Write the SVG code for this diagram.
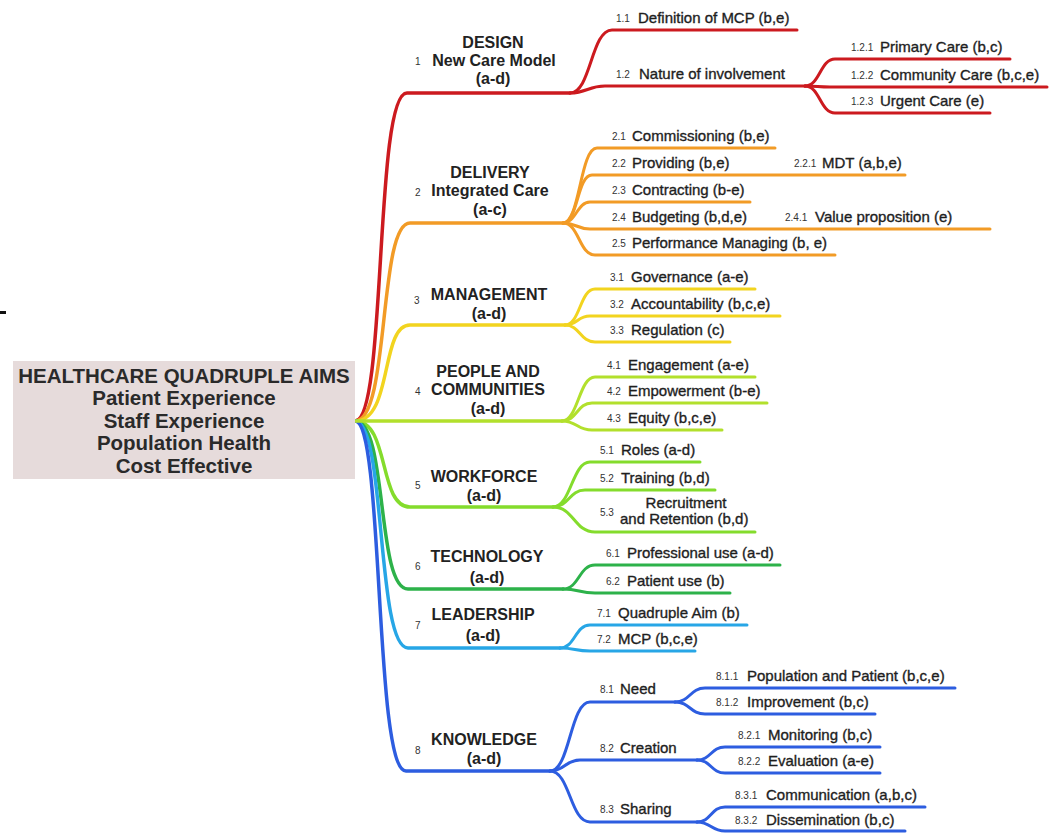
<svg xmlns="http://www.w3.org/2000/svg" width="1059" height="833" viewBox="0 0 1059 833">
<style>
text{font-family:"Liberation Sans",Arial,sans-serif;fill:#1e1e1e}
.root{font-size:20.5px;font-weight:bold;text-anchor:middle;fill:#2a2a2a}
.l1{font-size:16px;font-weight:bold;text-anchor:middle;fill:#222}
.n1{font-size:10px;fill:#333}
.s{font-size:15px;stroke:#1e1e1e;stroke-width:0.35}
.n{font-size:10px;fill:#333}
path{fill:none;stroke-width:3;stroke-linecap:round;stroke-linejoin:round}
.m{stroke-width:3.5}
.c1{stroke:#cc1a1f}.c2{stroke:#f29b26}.c3{stroke:#f2d41f}.c4{stroke:#b2e02c}
.c5{stroke:#84dc2c}.c6{stroke:#2db24a}.c7{stroke:#27a6e6}.c8{stroke:#2d5de0}
</style>
<rect x="0" y="311" width="6" height="3" fill="#111"/>
<g id="connectors">
<path class="c1 m" d="M355,421 C387,421 374,93 407,93 H570"/>
<path class="c2 m" d="M355,421 C390,421 378,223 410,223 H563"/>
<path class="c3 m" d="M355,421 C393,421 380,325 410,325 H565"/>
<path class="c5 m" d="M355,421 C390,421 378,507 410,507 H553"/>
<path class="c6 m" d="M355,421 C388,421 376,589 408,589 H563"/>
<path class="c7 m" d="M355,421 C386,421 376,648 408,648 H560"/>
<path class="c8 m" d="M355,421 C384,421 374,771 406,771 H550"/>
<path class="c4 m" d="M355,421 H562"/>
<path class="c1" d="M570,93 C591,93 591,30 612,30 H797"/>
<path class="c1" d="M570,93 C587,93 588,86 605,86 H805"/>
<path class="c1" d="M805,86 C820,86 820,59 835,59 H1010"/>
<path class="c1" d="M805,86 C817,86 818,87 830,87 H1047"/>
<path class="c1" d="M805,86 C820,86 820,113 835,113 H990"/>
<path class="c2" d="M563,223 C580,223 580,148 597,148 H775"/>
<path class="c2" d="M563,223 C578,223 577,175 592,175 H905"/>
<path class="c2" d="M563,223 C576,223 577,202 590,202 H750"/>
<path class="c2" d="M563,223 C576,223 577,229 590,229 H990"/>
<path class="c2" d="M563,223 C579,223 579,255 595,255 H835"/>
<path class="c3" d="M565,325 C580,325 580,289 595,289 H755"/>
<path class="c3" d="M565,325 C578,325 577,316 590,316 H780"/>
<path class="c3" d="M565,325 C580,325 580,342 595,342 H730"/>
<path class="c4" d="M562,421 C578,421 579,377 595,377 H755"/>
<path class="c4" d="M562,421 C577,421 577,403 592,403 H767"/>
<path class="c4" d="M562,421 C577,421 577,430 592,430 H722"/>
<path class="c5" d="M553,507 C571,507 572,462 590,462 H700"/>
<path class="c5" d="M553,507 C569,507 569,490 585,490 H715"/>
<path class="c5" d="M553,507 C574,507 574,532 595,532 H755"/>
<path class="c6" d="M563,589 C579,589 579,565 595,565 H780"/>
<path class="c6" d="M563,589 C579,589 579,593 595,593 H730"/>
<path class="c7" d="M560,648 C575,648 575,625 590,625 H747"/>
<path class="c7" d="M560,648 C575,648 575,651 590,651 H695"/>
<path class="c8" d="M550,771 C570,771 570,702 590,702 H675"/>
<path class="c8" d="M550,771 C565,771 565,760 580,760 H697"/>
<path class="c8" d="M550,771 C570,771 570,822 590,822 H697"/>
<path class="c8" d="M675,702 C690,702 690,688 705,688 H955"/>
<path class="c8" d="M675,702 C690,702 690,714 705,714 H875"/>
<path class="c8" d="M697,760 C711,760 711,747 725,747 H880"/>
<path class="c8" d="M697,760 C711,760 711,773 725,773 H880"/>
<path class="c8" d="M697,822 C711,822 711,807 725,807 H925"/>
<path class="c8" d="M697,822 C711,822 711,831 725,831 H905"/>
</g>
<g id="root">
<rect x="13" y="361" width="342" height="118" fill="#e6dbdb"/>
<text class="root" x="184" y="383">HEALTHCARE QUADRUPLE AIMS</text>
<text class="root" x="184" y="405">Patient Experience</text>
<text class="root" x="184" y="428">Staff Experience</text>
<text class="root" x="184" y="450">Population Health</text>
<text class="root" x="184" y="473">Cost Effective</text>
</g>
<g id="n1">
<text class="l1" x="493" y="48">DESIGN</text>
<text class="n1" x="415" y="65">1</text>
<text class="l1" x="494" y="66">New Care Model</text>
<text class="l1" x="493" y="84">(a-d)</text>
</g>
<g id="n1-1"><text class="n" x="616" y="22">1.1</text><text class="s" x="638" y="23">Definition of MCP (b,e)</text></g>
<g id="n1-2"><text class="n" x="616" y="78">1.2</text><text class="s" x="639" y="79">Nature of involvement</text></g>
<g id="n1-2-1"><text class="n" x="851" y="51">1.2.1</text><text class="s" x="880" y="52">Primary Care (b,c)</text></g>
<g id="n1-2-2"><text class="n" x="851" y="79">1.2.2</text><text class="s" x="880" y="80">Community Care (b,c,e)</text></g>
<g id="n1-2-3"><text class="n" x="851" y="105">1.2.3</text><text class="s" x="880" y="106">Urgent Care (e)</text></g>
<g id="n2">
<text class="l1" x="490" y="178">DELIVERY</text>
<text class="n1" x="415" y="196">2</text>
<text class="l1" x="490" y="196">Integrated Care</text>
<text class="l1" x="490" y="215">(a-c)</text>
</g>
<g id="n2-1"><text class="n" x="612" y="140">2.1</text><text class="s" x="632" y="141">Commissioning (b,e)</text></g>
<g id="n2-2"><text class="n" x="612" y="167">2.2</text><text class="s" x="632" y="168">Providing (b,e)</text></g>
<g id="n2-2-1"><text class="n" x="794" y="167">2.2.1</text><text class="s" x="822" y="168">MDT (a,b,e)</text></g>
<g id="n2-3"><text class="n" x="612" y="194">2.3</text><text class="s" x="632" y="195">Contracting (b-e)</text></g>
<g id="n2-4"><text class="n" x="612" y="221">2.4</text><text class="s" x="632" y="222">Budgeting (b,d,e)</text></g>
<g id="n2-4-1"><text class="n" x="785" y="221">2.4.1</text><text class="s" x="815" y="222">Value proposition (e)</text></g>
<g id="n2-5"><text class="n" x="612" y="247">2.5</text><text class="s" x="632" y="248">Performance Managing (b, e)</text></g>
<g id="n3">
<text class="n1" x="414" y="304">3</text>
<text class="l1" x="489" y="300">MANAGEMENT</text>
<text class="l1" x="489" y="319">(a-d)</text>
</g>
<g id="n3-1"><text class="n" x="610" y="281">3.1</text><text class="s" x="631" y="282">Governance (a-e)</text></g>
<g id="n3-2"><text class="n" x="610" y="308">3.2</text><text class="s" x="631" y="309">Accountability (b,c,e)</text></g>
<g id="n3-3"><text class="n" x="610" y="334">3.3</text><text class="s" x="631" y="335">Regulation (c)</text></g>
<g id="n4">
<text class="l1" x="488" y="377">PEOPLE AND</text>
<text class="n1" x="415" y="395">4</text>
<text class="l1" x="488" y="395">COMMUNITIES</text>
<text class="l1" x="488" y="414">(a-d)</text>
</g>
<g id="n4-1"><text class="n" x="607" y="369">4.1</text><text class="s" x="628" y="370">Engagement (a-e)</text></g>
<g id="n4-2"><text class="n" x="607" y="395">4.2</text><text class="s" x="628" y="396">Empowerment (b-e)</text></g>
<g id="n4-3"><text class="n" x="607" y="422">4.3</text><text class="s" x="628" y="423">Equity (b,c,e)</text></g>
<g id="n5">
<text class="n1" x="415" y="489">5</text>
<text class="l1" x="484" y="482">WORKFORCE</text>
<text class="l1" x="484" y="501">(a-d)</text>
</g>
<g id="n5-1"><text class="n" x="600" y="454">5.1</text><text class="s" x="621" y="455">Roles (a-d)</text></g>
<g id="n5-2"><text class="n" x="600" y="482">5.2</text><text class="s" x="621" y="483">Training (b,d)</text></g>
<g id="n5-3"><text class="n" x="600" y="516">5.3</text><text class="s" x="686" y="508" text-anchor="middle">Recruitment</text><text class="s" x="620" y="524">and Retention (b,d)</text></g>
<g id="n6">
<text class="n1" x="415" y="570">6</text>
<text class="l1" x="487" y="562">TECHNOLOGY</text>
<text class="l1" x="487" y="583">(a-d)</text>
</g>
<g id="n6-1"><text class="n" x="606" y="557">6.1</text><text class="s" x="627" y="558">Professional use (a-d)</text></g>
<g id="n6-2"><text class="n" x="606" y="585">6.2</text><text class="s" x="627" y="586">Patient use (b)</text></g>
<g id="n7">
<text class="n1" x="415" y="629">7</text>
<text class="l1" x="483" y="620">LEADERSHIP</text>
<text class="l1" x="483" y="641">(a-d)</text>
</g>
<g id="n7-1"><text class="n" x="597" y="617">7.1</text><text class="s" x="618" y="618">Quadruple Aim (b)</text></g>
<g id="n7-2"><text class="n" x="597" y="643">7.2</text><text class="s" x="618" y="644">MCP (b,c,e)</text></g>
<g id="n8">
<text class="n1" x="415" y="754">8</text>
<text class="l1" x="484" y="745">KNOWLEDGE</text>
<text class="l1" x="484" y="764">(a-d)</text>
</g>
<g id="n8-1"><text class="n" x="600" y="693">8.1</text><text class="s" x="620" y="694">Need</text></g>
<g id="n8-2"><text class="n" x="600" y="752">8.2</text><text class="s" x="620" y="753">Creation</text></g>
<g id="n8-3"><text class="n" x="600" y="813">8.3</text><text class="s" x="620" y="814">Sharing</text></g>
<g id="n8-1-1"><text class="n" x="716" y="680">8.1.1</text><text class="s" x="747" y="681">Population and Patient (b,c,e)</text></g>
<g id="n8-1-2"><text class="n" x="716" y="706">8.1.2</text><text class="s" x="747" y="707">Improvement (b,c)</text></g>
<g id="n8-2-1"><text class="n" x="738" y="739">8.2.1</text><text class="s" x="768" y="740">Monitoring (b,c)</text></g>
<g id="n8-2-2"><text class="n" x="738" y="765">8.2.2</text><text class="s" x="768" y="766">Evaluation (a-e)</text></g>
<g id="n8-3-1"><text class="n" x="735" y="799">8.3.1</text><text class="s" x="766" y="800">Communication (a,b,c)</text></g>
<g id="n8-3-2"><text class="n" x="735" y="824">8.3.2</text><text class="s" x="766" y="825">Dissemination (b,c)</text></g>
</svg>
